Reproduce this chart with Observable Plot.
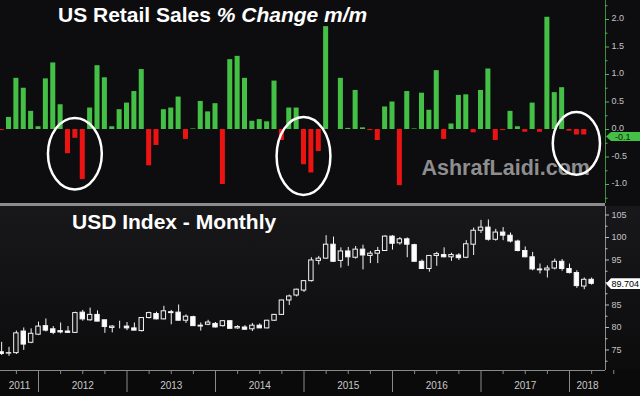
<!DOCTYPE html>
<html>
<head>
<meta charset="utf-8">
<script src="https://cdn.jsdelivr.net/npm/d3@7"></script>
<script src="https://cdn.jsdelivr.net/npm/@observablehq/plot@0.6"></script>
<style>
  html, body { margin: 0; padding: 0; background: #0b0b0d; }
  #chart { position: relative; width: 640px; height: 396px; overflow: hidden; background: #0d0d10;
           font-family: Arial, "Liberation Sans", Helvetica, sans-serif; }
  #topbg { position: absolute; left: 0; top: 0; width: 640px; height: 203px; background: #0d0d10; }
  #botbg { position: absolute; left: 0; top: 206px; width: 640px; height: 164px;
           background: linear-gradient(#18181b, #0c0c0d); }
  #axbg { position: absolute; left: 0; top: 370px; width: 640px; height: 26px; background: #0a0a0a; }
  #sep { position: absolute; left: 0; top: 203px; width: 605px; height: 3px; background: #8c8c8c; }
  #top { position: absolute; left: 0; top: 0; }
  #bottom { position: absolute; left: 0; top: 206px; }
  .title { position: absolute; color: #ffffff; font-weight: bold; font-size: 21px; line-height: 21px;
           white-space: nowrap; font-family: Arial, "Liberation Sans", Helvetica, sans-serif; }
</style>
</head>
<body>
<div id="chart">
  <div id="topbg"></div>
  <div id="botbg"></div>
  <div id="axbg"></div>
  <div id="sep"></div>
  <div id="top"></div>
  <div id="bottom"></div>
  <div class="title" style="left:58px; top:4px;">US Retail Sales <i>% Change m/m</i></div>
  <div class="title" style="left:72px; top:211px;">USD Index - Monthly</div>
</div>
<script>
// ---------- DATA ----------
const months = [
  "2011-07","2011-08","2011-09","2011-10","2011-11","2011-12",
  "2012-01","2012-02","2012-03","2012-04","2012-05","2012-06","2012-07","2012-08","2012-09","2012-10","2012-11","2012-12",
  "2013-01","2013-02","2013-03","2013-04","2013-05","2013-06","2013-07","2013-08","2013-09","2013-10","2013-11","2013-12",
  "2014-01","2014-02","2014-03","2014-04","2014-05","2014-06","2014-07","2014-08","2014-09","2014-10","2014-11","2014-12",
  "2015-01","2015-02","2015-03","2015-04","2015-05","2015-06","2015-07","2015-08","2015-09","2015-10","2015-11","2015-12",
  "2016-01","2016-02","2016-03","2016-04","2016-05","2016-06","2016-07","2016-08","2016-09","2016-10","2016-11","2016-12",
  "2017-01","2017-02","2017-03","2017-04","2017-05","2017-06","2017-07","2017-08","2017-09","2017-10","2017-11","2017-12",
  "2018-01","2018-02","2018-03"
];

// US retail sales % change m/m (Jul 2011 .. Feb 2018)
const retail = [
  -0.02, 0.22, 0.93, 0.75, 0.33, 0.05,
  0.92, 1.21, 0.45, -0.44, -0.16, -0.91, 0.39, 1.16, 0.94, 0.05, 0.36, 0.48,
  0.69, 1.09, -0.66, -0.29, 0.36, 0.39, 0.59, -0.18, 0.01, 0.51, 0.32, 0.47,
  -1.00, 1.27, 1.33, 0.93, 0.15, 0.18, 0.14, 0.88, -0.20, 0.39, 0.39, -0.64,
  -0.79, -0.40, 1.87, 0.00, 0.93, 0.02, 0.71, 0.03, -0.02, -0.20, 0.41, 0.50,
  -1.02, 0.69, 0.01, 0.66, 0.35, 1.07, -0.18, 0.10, 0.62, 0.63, -0.06, 0.71,
  1.10, -0.20, -0.02, 0.33, 0.05, -0.05, 0.48, -0.05, 2.04, 0.67, 0.76, -0.03,
  -0.10, -0.10
];

// USD index monthly OHLC (Jul 2011 .. Mar 2018)
const open = [
  74.5, 74.2, 74.3, 79.1, 76.6, 78.4,
  80.3, 79.6, 79.2, 79.1, 78.8, 83.3, 81.6, 82.8, 81.6, 79.9, 80.2, 80.2,
  79.8, 79.2, 82.1, 83.0, 81.8, 83.4, 83.3, 81.5, 82.3, 80.2, 80.6, 80.8,
  80.3, 81.4, 79.8, 80.0, 79.6, 80.4, 79.8, 81.5, 82.8, 86.0, 87.1, 88.2,
  90.3, 94.8, 95.3, 98.4, 94.8, 96.9, 95.5, 97.3, 95.9, 96.4, 97.0, 100.2,
  98.7, 99.6, 98.3, 94.6, 93.0, 95.9, 96.1, 95.6, 96.0, 95.5, 98.4, 101.5,
  102.2, 99.5, 101.1, 100.4, 99.1, 97.0, 95.6, 92.9, 92.7, 93.1, 94.6, 93.0,
  92.1, 89.1, 90.6
];
const high = [
  76.7, 75.6, 79.2, 79.9, 79.7, 81.2,
  81.9, 80.2, 81.0, 80.2, 83.4, 83.8, 84.3, 83.7, 81.6, 80.4, 81.4, 81.1,
  81.0, 82.2, 83.4, 83.4, 84.7, 83.8, 85.0, 82.8, 82.5, 81.0, 81.6, 81.1,
  81.5, 81.4, 80.4, 80.4, 80.9, 80.8, 81.6, 82.9, 86.1, 87.2, 88.5, 90.4,
  95.5, 95.8, 100.4, 100.1, 97.7, 97.8, 98.0, 98.3, 96.9, 97.8, 100.4, 100.4,
  100.0, 99.9, 98.5, 95.0, 96.0, 96.7, 97.7, 96.5, 96.4, 99.3, 102.1, 103.8,
  103.9, 101.8, 102.2, 101.0, 99.4, 97.9, 96.7, 94.1, 93.7, 95.2, 95.1, 94.1,
  92.6, 91.0, 91.0
];
const low = [
  73.8, 73.6, 74.0, 74.9, 76.4, 78.2,
  79.0, 78.4, 78.6, 78.7, 78.7, 81.4, 81.4, 81.3, 78.7, 78.8, 79.7, 79.3,
  79.3, 79.0, 81.9, 81.7, 81.7, 80.6, 81.5, 80.9, 80.3, 79.2, 80.4, 79.9,
  80.1, 79.7, 79.6, 79.4, 79.1, 79.8, 79.7, 81.4, 82.7, 84.9, 86.8, 87.8,
  90.1, 93.9, 95.2, 94.5, 93.2, 93.6, 95.2, 92.8, 94.2, 94.2, 96.9, 97.2,
  98.3, 95.5, 94.6, 92.9, 92.3, 93.6, 95.5, 94.7, 94.9, 95.3, 96.0, 100.9,
  99.2, 99.2, 99.3, 98.8, 96.8, 95.5, 92.6, 91.9, 91.0, 92.8, 92.5, 91.9,
  88.7, 88.4, 89.4
];
const close = [
  74.1, 74.3, 78.7, 76.2, 78.6, 80.2,
  79.3, 78.8, 78.9, 78.8, 83.2, 81.8, 82.8, 81.3, 80.1, 80.2, 80.2, 79.8,
  79.3, 82.1, 83.2, 81.8, 83.6, 83.2, 81.5, 82.4, 80.3, 80.4, 81.1, 80.0,
  81.4, 79.7, 80.1, 79.5, 80.4, 79.8, 81.5, 82.8, 86.0, 86.9, 88.4, 90.3,
  94.9, 95.3, 98.4, 94.6, 96.9, 95.6, 97.3, 96.0, 96.4, 97.0, 100.2, 98.6,
  99.6, 98.4, 94.6, 93.0, 95.9, 96.3, 95.6, 96.1, 95.4, 98.5, 101.5, 102.2,
  99.5, 101.1, 100.4, 99.1, 97.0, 95.6, 92.9, 92.7, 93.1, 94.6, 93.0, 92.1,
  89.2, 90.6, 89.704
];

const years = ["2011","2012","2013","2014","2015","2016","2017","2018"];
const topTicks = [-1.0, -0.5, 0.0, 0.5, 1.0, 1.5, 2.0];
const topMinor = [-1.25, -0.75, -0.25, 0.25, 0.75, 1.25, 1.75, 2.25];
const botTicks = [75, 80, 85, 90, 95, 100, 105];
const botMinor = [72.5, 77.5, 82.5, 87.5, 92.5, 97.5, 102.5];
const lastRetailLabel = "-0.1";
const lastRetailValue = -0.1;
const lastUsdLabel = "89.704";
const lastUsdValue = 89.704;
// circled episodes: centre month, centre value, half-width (months), half-height (value units)
const circles = [
  {month: "2012-05", value: -0.45, rMonths: 3.65, rValue: 0.65},
  {month: "2014-12", value: -0.49, rMonths: 3.65, rValue: 0.71},
  {month: "2018-01", value: -0.26, rMonths: 3.2, rValue: 0.57}
];

// ---------- BUILD ----------
const green = "#45c046", red = "#ec1313", candleBg = "#141417";
const font = "Arial, 'Liberation Sans', Helvetica, sans-serif";
const idx = m => months.indexOf(m);
const xDomain = [-0.153, 81.88];
const topY = [-1.345, 2.345];
const botY = [70.44, 106.89];
const frameW = 605, topH = 203, botFrameH = 164;
const pxX = (xDomain[1] - xDomain[0]) / frameW;          // data units per pixel (x)
const pxTopY = (topY[1] - topY[0]) / topH;
const pxBotY = (botY[1] - botY[0]) / botFrameH;
const fmt1 = d => (d < 0 ? "-" : "") + Math.abs(d).toFixed(1);

const retailData = retail.map((v, i) => ({k: i, v}));
const candleData = months.map((m, i) => ({k: i, o: open[i], h: high[i], l: low[i], c: close[i]}));

const decIdx = y => idx(y + "-12");               // year boundary = end of December
const yearBounds = years.slice(0, -1).map(decIdx).filter(k => k >= 0);
const quarterTicks = months.map((m, i) => ({m, i}))
  .filter(d => ["03","06","09"].includes(d.m.slice(5)))
  .map(d => d.i);
quarterTicks.push(quarterTicks[quarterTicks.length - 1] + 3);
const yearLabelData = years.map((y, j) => {
  const s = j === 0 ? xDomain[0] : decIdx(years[j - 1]);
  const e = decIdx(y) >= 0 ? decIdx(y) : xDomain[1];
  return {k: (s + Math.min(e, xDomain[1])) / 2, label: y};
});
// tick labels hidden behind the last-value tag (as in the original) are not printed
const botLabels = botTicks.filter(t => Math.abs(t - lastUsdValue) > 7 * pxBotY);

const xr = xDomain[1];
const topPlot = Plot.plot({
  width: 640, height: topH,
  marginTop: 0, marginBottom: 0, marginLeft: 0, marginRight: 35,
  style: {background: "transparent", fontFamily: font, fontSize: "9px", overflow: "visible"},
  x: {domain: xDomain, axis: null},
  y: {domain: topY, axis: null},
  marks: [
    Plot.text(["AshrafLaidi.com"], {frameAnchor: "top-left", dx: 421, dy: 159, text: d => d,
      fill: "#8e8e8e", fontSize: 21.5, fontWeight: "bold", textAnchor: "start"}),
    Plot.rectY(retailData, {x1: d => d.k - 0.34, x2: d => d.k + 0.34, y1: 0, y2: "v",
      fill: d => d.v >= 0 ? green : red}),
    Plot.ruleX([xr], {stroke: "#3f8f40"}),
    Plot.ruleY(topMinor, {x1: xr, x2: xr + 2.5 * pxX, stroke: green}),
    Plot.ruleY(topTicks, {x1: xr, x2: xr + 4 * pxX, stroke: green}),
    Plot.text(topTicks, {y: d => d, text: fmt1, frameAnchor: "right", dx: 6, dy: -1, textAnchor: "start",
      fill: "#c4c4c4", fontSize: 9})
  ]
});

const yb = botY[0];
const botPlot = Plot.plot({
  width: 640, height: 190,
  marginTop: 0, marginBottom: 26, marginLeft: 0, marginRight: 35,
  style: {background: "transparent", fontFamily: font, fontSize: "9px", overflow: "visible"},
  x: {domain: xDomain, axis: null},
  y: {domain: botY, axis: null},
  marks: [
    Plot.ruleX(candleData, {x: "k", y1: "l", y2: "h", stroke: "#f4f4f4", strokeWidth: 1}),
    Plot.rect(candleData, {x1: d => d.k - 0.3, x2: d => d.k + 0.3, y1: "o", y2: "c",
      fill: d => d.c >= d.o ? candleBg : "#ffffff", stroke: "#f4f4f4", strokeWidth: 1}),
    Plot.ruleY([yb], {stroke: "#8a8a8a"}),
    Plot.ruleX([xr], {y1: yb, y2: botY[1], stroke: "#8a8a8a"}),
    Plot.ruleY(botMinor, {x1: xr, x2: xr + 2.5 * pxX, stroke: "#bdbdbd"}),
    Plot.ruleY(botTicks, {x1: xr, x2: xr + 4 * pxX, stroke: "#bdbdbd"}),
    Plot.text(botLabels, {y: d => d, text: d => String(d), frameAnchor: "right", dx: 6, textAnchor: "start",
      fill: "#c4c4c4", fontSize: 9}),
    Plot.ruleX(yearBounds, {y1: yb, y2: yb - 22 * pxBotY, stroke: "#8a8a8a"}),
    Plot.ruleX(quarterTicks, {y1: yb, y2: yb - 4 * pxBotY, stroke: "#8a8a8a"}),
    Plot.text(yearLabelData, {x: "k", text: "label", frameAnchor: "bottom", dy: 18.5,
      fill: "#c8c8c8", fontSize: 10})
  ]
});

document.getElementById("top").appendChild(topPlot);
document.getElementById("bottom").appendChild(botPlot);

function scaleFn(plot, name) {
  const s = plot.scale(name);
  if (s && typeof s.apply === "function") return v => s.apply(v);
  return d3.scaleLinear(s.domain, s.range);
}
const tx = scaleFn(topPlot, "x"), ty = scaleFn(topPlot, "y");
const by = scaleFn(botPlot, "y");

// circles
const tsvg = d3.select(topPlot);
for (const c of circles) {
  const k = idx(c.month);
  tsvg.append("ellipse")
    .attr("cx", tx(k)).attr("cy", ty(c.value))
    .attr("rx", tx(k + c.rMonths) - tx(k))
    .attr("ry", ty(c.value - c.rValue) - ty(c.value))
    .attr("fill", "none").attr("stroke", "#ffffff").attr("stroke-width", 2.5);
}

function valueTag(svg, cy, label, fill, textFill, halfH, tx0) {
  const x0 = 606, x1 = 611, x2 = 640;
  svg.append("path")
    .attr("d", `M${x0},${cy} L${x1},${cy - halfH} L${x2},${cy - halfH} L${x2},${cy + halfH} L${x1},${cy + halfH} Z`)
    .attr("fill", fill);
  svg.append("text")
    .attr("x", tx0).attr("y", cy).attr("dy", "0.35em")
    .attr("text-anchor", "start")
    .attr("fill", textFill).attr("font-size", 9).attr("font-family", font)
    .text(label);
}
valueTag(tsvg, ty(lastRetailValue) + 2, lastRetailLabel, green, "#0b1f0b", 4.5, 615);
valueTag(d3.select(botPlot), by(lastUsdValue) + 0.3, lastUsdLabel, "#ffffff", "#000000", 5.3, 611.5);
</script>
</body>
</html>
